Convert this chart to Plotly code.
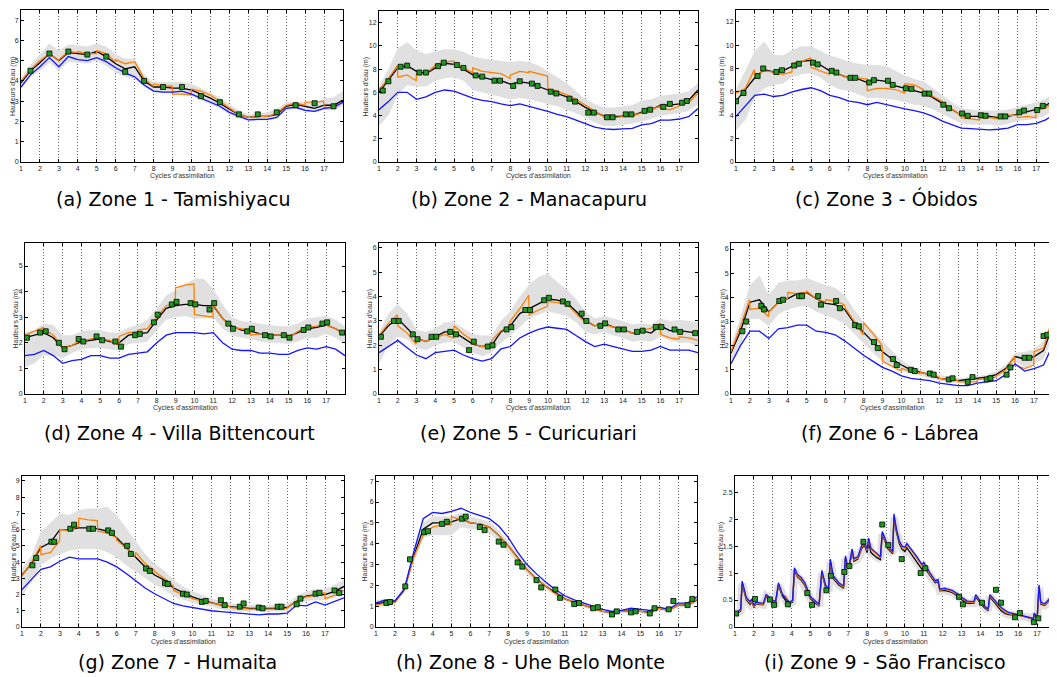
import plotly.graph_objects as go
from plotly.subplots import make_subplots

# ---------------- data ----------------
cycles = [1.0, 1.5, 2.0, 2.5, 3.0, 3.5, 4.0, 4.5, 5.0, 5.5,
          6.0, 6.5, 7.0, 7.5, 8.0, 8.5, 9.0, 9.5, 10.0, 10.5,
          11.0, 11.5, 12.0, 12.5, 13.0, 13.5, 14.0, 14.5, 15.0, 15.5,
          16.0, 16.5, 17.0, 17.5, 18.0]
cycle_ticks = list(range(1, 18))

# Zone 1 - Tamishiyacu
z1_black = [3.9, 4.5, 4.9, 5.35, 5.0, 5.4, 5.35, 5.3, 5.45, 5.2,
            4.85, 4.6, 4.7, 4.0, 3.7, 3.7, 3.65, 3.65, 3.55, 3.35,
            3.15, 2.9, 2.6, 2.35, 2.2, 2.25, 2.25, 2.35, 2.75, 2.85,
            2.75, 2.65, 2.8, 2.8, 3.05]
z1_blue = [3.7, 4.3, 4.7, 5.15, 4.7, 5.2, 5.05, 5.0, 5.15, 4.95,
           4.65, 4.4, 4.2, 3.8, 3.5, 3.45, 3.45, 3.5, 3.35, 3.15,
           2.95, 2.75, 2.45, 2.25, 2.08, 2.1, 2.1, 2.2, 2.65, 2.7,
           2.55, 2.5, 2.65, 2.7, 2.95]
z1_upper = [4.1, 4.8, 5.3, 5.85, 5.5, 5.8, 5.75, 5.7, 5.85, 5.7,
            5.3, 5.1, 5.1, 4.3, 3.95, 3.95, 3.95, 3.95, 3.85, 3.65,
            3.4, 3.2, 2.85, 2.55, 2.35, 2.4, 2.45, 2.6, 2.95, 3.0,
            2.95, 2.9, 3.15, 3.2, 3.5]
z1_lower = [3.6, 4.2, 4.5, 4.9, 4.5, 4.95, 4.9, 4.85, 5.0, 4.75,
            4.4, 4.2, 4.1, 3.7, 3.45, 3.4, 3.4, 3.35, 3.25, 3.05,
            2.85, 2.65, 2.35, 2.15, 2.05, 2.05, 2.05, 2.15, 2.55, 2.65,
            2.5, 2.45, 2.55, 2.55, 2.75]
z1_orange = [(4.0, 4.55, 5.0), (5.0, 5.35, 5.0), (5.05, 5.45, 5.4), (5.45, 5.35, 5.35),
             (5.5, 5.35, 4.95), (5.05, 4.85, 4.95), (4.95, 4.1, 3.75), (3.85, 3.75, 3.75),
             (3.35, 3.35, 3.3), (3.6, 3.5, 3.3), (3.3, 3.0, 2.7), (2.7, 2.35, 2.2),
             (2.2, 2.25, 2.25), (2.25, 2.4, 2.8), (2.8, 2.9, 2.8), (2.95, 2.95, 3.0),
             (2.7, 2.7, 2.95)]
z1_obs_x = [1.5, 2.5, 3.5, 4.5, 5.5, 6.5, 7.5, 8.5, 9.5, 10.5, 11.5, 12.5, 13.5, 14.5, 15.5, 16.5, 17.5]
z1_obs_y = [4.5, 5.35, 5.45, 5.3, 5.2, 4.45, 4.0, 3.7, 3.7, 3.25, 2.95, 2.35, 2.35, 2.45, 2.8, 2.9, 2.75]

# Zone 2 - Manacapuru
z2_black = [6.0, 7.0, 8.1, 8.3, 7.8, 7.6, 8.1, 8.5, 8.4, 8.0,
            7.5, 7.3, 7.1, 7.0, 6.7, 6.9, 6.8, 6.5, 6.2, 5.9,
            5.6, 5.2, 4.7, 4.3, 3.95, 3.9, 3.95, 4.0, 4.3, 4.5,
            4.9, 4.9, 5.0, 5.3, 6.2]
z2_blue = [4.5, 5.2, 6.0, 6.0, 5.4, 5.6, 6.0, 6.2, 6.1, 5.8,
           5.5, 5.3, 5.2, 5.0, 4.85, 5.0, 4.8, 4.55, 4.35, 4.1,
           3.9, 3.6, 3.3, 3.0, 2.85, 2.8, 2.85, 2.9, 3.2, 3.3,
           3.6, 3.6, 3.7, 3.9, 4.6]
z2_upper = [6.5, 8.0, 9.8, 10.3, 9.6, 9.3, 9.5, 9.7, 9.7, 9.5,
            9.1, 8.9, 8.8, 8.7, 8.6, 8.7, 8.6, 8.3, 7.8, 7.3,
            6.8, 6.1, 5.4, 5.0, 4.7, 4.7, 4.8, 4.9, 5.3, 5.4,
            5.7, 5.8, 5.9, 6.1, 6.8]
z2_lower = [3.1, 4.0, 5.8, 6.6, 6.5, 6.5, 7.0, 7.2, 7.3, 7.0,
            6.2, 6.0, 5.8, 5.6, 5.4, 5.5, 5.4, 5.2, 5.0, 4.8,
            4.5, 4.2, 3.8, 3.4, 3.1, 3.1, 3.2, 3.3, 3.5, 3.7,
            4.0, 4.1, 4.2, 4.4, 5.0]
z2_orange = [(6.2, 7.2, 8.3), (7.3, 7.5, 7.0), (7.6, 7.6, 8.3), (8.4, 8.6, 8.7),
             (8.4, 8.1, 7.7), (8.1, 7.8, 7.7), (7.7, 7.6, 7.2), (7.5, 7.8, 7.7),
             (7.8, 7.6, 7.4), (6.3, 6.1, 5.8), (5.8, 5.4, 4.9), (4.9, 4.4, 3.9),
             (3.8, 3.8, 3.9), (3.9, 4.0, 4.2), (4.3, 4.5, 4.8), (4.6, 4.5, 4.8),
             (4.9, 5.1, 5.9)]
z2_obs_x = [1.2, 1.5, 2.15, 2.5, 3.15, 3.5, 4.15, 4.45, 5.15, 5.5, 6.15, 6.5, 7.15, 7.45,
            8.15, 8.5, 9.15, 9.45, 10.15, 10.45, 11.15, 11.45, 12.15, 12.45, 13.15, 13.45,
            14.15, 14.45, 15.15, 15.45, 16.15, 16.5, 17.15, 17.4]
z2_obs_y = [6.15, 6.95, 8.2, 8.3, 7.7, 7.7, 8.25, 8.55, 8.35, 8.1, 7.45, 7.35, 7.0, 7.0,
            6.55, 6.95, 6.75, 6.55, 6.05, 5.9, 5.45, 5.2, 4.25, 4.25, 3.85, 3.85,
            4.1, 4.1, 4.4, 4.5, 4.75, 5.0, 5.1, 5.25]

# Zone 3 - Obidos
z3_black = [5.2, 6.2, 7.2, 7.9, 7.7, 7.8, 8.2, 8.6, 8.7, 8.3,
            7.8, 7.5, 7.2, 7.1, 6.8, 7.0, 6.9, 6.5, 6.3, 6.1,
            5.9, 5.5, 5.0, 4.5, 4.0, 3.9, 3.9, 3.9, 3.8, 3.9,
            4.1, 4.3, 4.5, 4.8, 5.4]
z3_blue = [3.9, 4.8, 5.7, 5.8, 5.6, 5.7, 6.0, 6.2, 6.35, 6.1,
           5.7, 5.5, 5.2, 5.1, 4.9, 5.1, 4.9, 4.7, 4.55, 4.4,
           4.2, 3.9, 3.5, 3.2, 2.9, 2.85, 2.8, 2.75, 2.8, 2.9,
           3.2, 3.2, 3.3, 3.6, 4.1]
z3_upper = [6.2, 7.8, 9.5, 10.3, 9.2, 9.1, 9.6, 9.9, 9.9, 9.5,
            9.1, 8.9, 8.6, 8.4, 8.3, 8.3, 8.2, 7.8, 7.4, 7.1,
            6.9, 6.3, 5.7, 5.1, 4.6, 4.5, 4.4, 4.4, 4.4, 4.5,
            4.7, 4.9, 5.1, 5.4, 6.0]
z3_lower = [2.7, 3.6, 5.5, 6.3, 6.6, 6.7, 7.3, 7.5, 7.6, 7.2,
            6.6, 6.2, 6.1, 5.8, 5.5, 5.5, 5.4, 5.3, 5.1, 4.9,
            4.8, 4.5, 4.1, 3.7, 3.3, 3.2, 3.2, 3.2, 3.1, 3.3,
            3.5, 3.6, 3.7, 4.0, 4.6]
z3_orange = [(5.9, 6.3, 7.9), (7.4, 7.8, 7.7), (7.6, 7.5, 7.7), (8.4, 8.6, 8.9),
             (8.1, 7.8, 7.5), (7.8, 7.5, 7.2), (7.3, 7.2, 7.1), (6.1, 6.3, 6.3),
             (6.3, 6.2, 5.9), (6.7, 6.6, 6.2), (5.9, 5.6, 5.2), (5.1, 4.5, 4.0),
             (3.8, 3.7, 3.6), (3.8, 3.8, 3.7), (3.9, 4.0, 4.0), (3.8, 3.9, 3.8),
             (4.4, 4.6, 5.1)]
z3_obs_x = [1.0, 1.4, 2.15, 2.45, 3.15, 3.45, 4.1, 4.35, 5.1, 5.35, 6.1, 6.35, 7.1, 7.35,
            8.1, 8.35, 9.1, 9.35, 10.05, 10.35, 11.05, 11.3, 12.05, 12.35, 13.05, 13.35,
            14.05, 14.3, 15.1, 15.35, 16.1, 16.35, 17.05, 17.35]
z3_obs_y = [5.2, 5.9, 7.35, 8.0, 7.7, 7.85, 8.25, 8.4, 8.5, 8.35, 7.8, 7.65, 7.2, 7.2,
            6.8, 7.0, 6.95, 6.6, 6.3, 6.25, 5.85, 5.85, 4.9, 4.6, 4.15, 3.95,
            4.0, 3.95, 3.9, 3.9, 4.25, 4.4, 4.45, 4.8]

# Zone 4 - Villa Bittencourt
z4_black = [2.2, 2.3, 2.4, 2.2, 1.8, 1.9, 2.05, 2.1, 2.15, 2.05,
            2.0, 2.3, 2.35, 2.4, 2.9, 3.35, 3.45, 3.5, 3.5, 3.45,
            3.45, 2.95, 2.65, 2.5, 2.45, 2.35, 2.3, 2.3, 2.25, 2.4,
            2.55, 2.6, 2.7, 2.55, 2.35]
z4_blue = [1.5, 1.55, 1.7, 1.5, 1.2, 1.3, 1.35, 1.5, 1.5, 1.4,
           1.4, 1.55, 1.6, 1.65, 2.0, 2.3, 2.4, 2.4, 2.4, 2.35,
           2.4, 2.0, 1.75, 1.7, 1.7, 1.6, 1.6, 1.55, 1.55, 1.7,
           1.8, 1.75, 1.85, 1.75, 1.5]
z4_upper = [2.4, 2.5, 2.75, 2.7, 2.3, 2.3, 2.45, 2.5, 2.5, 2.4,
            2.4, 2.6, 2.7, 2.9, 3.35, 3.85, 4.05, 4.3, 4.5, 4.5,
            4.1, 3.5, 3.0, 2.85, 2.8, 2.75, 2.7, 2.65, 2.65, 2.75,
            2.95, 3.0, 3.05, 2.9, 2.65]
z4_lower = [1.05, 1.2, 1.5, 1.5, 1.4, 1.6, 1.75, 1.8, 1.8, 1.75,
            1.7, 1.95, 2.0, 2.05, 2.5, 2.9, 3.0, 3.05, 2.95, 2.95,
            3.0, 2.55, 2.3, 2.2, 2.15, 2.05, 2.0, 2.0, 1.95, 2.05,
            2.2, 2.2, 2.35, 2.2, 1.95]
z4_orange = [(2.3, 2.45, 2.6), (2.55, 2.3, 1.85), (1.8, 1.9, 2.1), (2.05, 2.15, 2.2),
             (2.15, 2.1, 1.9), (2.25, 2.4, 2.45), (2.5, 2.55, 2.95), (3.0, 3.45, 3.55),
             (4.15, 4.25, 4.3), (3.1, 3.05, 3.0), (3.5, 2.95, 2.6), (2.6, 2.55, 2.45),
             (2.3, 2.35, 2.35), (2.3, 2.3, 2.3), (2.2, 2.45, 2.6), (2.6, 2.65, 2.75),
             (2.7, 2.55, 2.3)]
z4_obs_x = [1.1, 1.8, 2.1, 2.8, 3.1, 3.85, 4.1, 4.8, 5.1, 5.8, 6.1, 6.85, 7.1, 7.85,
            8.05, 8.8, 9.05, 9.8, 10.05, 10.8, 11.05, 11.8, 12.05, 12.8, 13.05, 13.75,
            14.05, 14.75, 15.05, 15.8, 16.05, 16.8, 17.05, 17.85]
z4_obs_y = [2.2, 2.4, 2.45, 2.0, 1.75, 2.15, 2.05, 2.25, 2.1, 2.05, 1.85, 2.3, 2.35, 2.8,
            3.1, 3.5, 3.6, 3.55, 3.5, 3.3, 3.55, 2.75, 2.55, 2.45, 2.55, 2.3,
            2.25, 2.3, 2.2, 2.5, 2.6, 2.75, 2.8, 2.4]

# Zone 5 - Curicuriari
z5_black = [2.35, 2.8, 3.1, 2.7, 2.3, 2.15, 2.35, 2.55, 2.55, 2.3,
            2.05, 1.95, 2.0, 2.55, 2.8, 3.3, 3.5, 3.7, 3.9, 3.85,
            3.75, 3.4, 3.0, 2.8, 2.9, 2.75, 2.65, 2.5, 2.6, 2.5,
            2.8, 2.6, 2.6, 2.55, 2.5]
z5_blue = [1.7, 1.95, 2.2, 1.9, 1.6, 1.45, 1.7, 1.75, 1.8, 1.6,
           1.45, 1.35, 1.45, 1.85, 1.95, 2.3, 2.5, 2.65, 2.75, 2.7,
           2.65, 2.4, 2.15, 1.95, 2.05, 1.95, 1.85, 1.75, 1.75, 1.8,
           1.95, 1.8, 1.8, 1.8, 1.7]
z5_upper = [2.5, 3.3, 3.7, 3.3, 2.65, 2.55, 2.7, 2.95, 2.95, 2.7,
            2.45, 2.4, 2.4, 3.0, 3.4, 4.0, 4.5, 4.8, 4.95, 4.6,
            4.3, 3.9, 3.4, 3.1, 3.2, 3.1, 3.0, 2.85, 2.9, 2.85,
            3.1, 3.0, 3.05, 3.0, 2.95]
z5_lower = [1.25, 2.0, 2.35, 2.25, 1.9, 1.8, 2.0, 2.1, 2.15, 1.9,
            1.7, 1.55, 1.7, 2.1, 2.4, 2.75, 3.1, 3.25, 3.4, 3.3,
            3.2, 2.95, 2.55, 2.45, 2.55, 2.4, 2.3, 2.15, 2.2, 2.15,
            2.35, 2.2, 2.1, 2.1, 1.95]
z5_orange = [(2.4, 2.9, 3.25), (2.8, 2.5, 2.05), (2.3, 2.15, 2.35), (2.3, 2.45, 2.3),
             (2.8, 2.45, 2.2), (2.05, 1.95, 1.95), (2.2, 2.6, 2.8), (3.0, 3.5, 4.05),
             (3.25, 3.45, 3.6), (3.8, 3.75, 3.7), (3.7, 3.3, 2.95), (3.0, 2.8, 2.9),
             (2.85, 2.75, 2.65), (2.65, 2.5, 2.6), (2.6, 2.7, 2.9), (2.45, 2.3, 2.25),
             (2.35, 2.3, 2.2)]
z5_obs_x = [1.1, 1.8, 2.05, 2.8, 3.05, 3.8, 4.05, 4.8, 5.1, 5.8, 6.05, 6.8, 7.05, 7.8,
            8.05, 8.8, 9.05, 9.8, 10.05, 10.8, 11.05, 11.8, 12.05, 12.8, 13.05, 13.75,
            14.05, 14.75, 15.05, 15.75, 16.05, 16.75, 17.05, 17.85]
z5_obs_y = [2.35, 3.0, 3.0, 2.45, 2.25, 2.35, 2.35, 2.55, 2.45, 1.8, 2.15, 1.95, 2.0, 2.65,
            2.75, 3.45, 3.45, 3.85, 3.95, 3.8, 3.7, 3.3, 3.0, 2.8, 2.9, 2.65,
            2.65, 2.55, 2.6, 2.75, 2.75, 2.65, 2.55, 2.5]

# Zone 6 - Labrea
z6_black = [1.7, 2.6, 3.8, 3.9, 3.4, 3.8, 3.95, 4.15, 4.2, 3.95,
            3.75, 3.7, 3.5, 2.95, 2.55, 2.15, 1.75, 1.45, 1.2, 1.0,
            0.9, 0.8, 0.65, 0.6, 0.55, 0.6, 0.65, 0.7, 0.8, 1.05,
            1.55, 1.45, 1.55, 1.8, 2.85]
z6_blue = [1.25, 2.0, 2.6, 2.6, 2.3, 2.7, 2.75, 2.85, 2.85, 2.6,
           2.55, 2.45, 2.2, 1.9, 1.6, 1.35, 1.1, 0.95, 0.75, 0.65,
           0.6, 0.55, 0.45, 0.4, 0.35, 0.35, 0.45, 0.5, 0.55, 0.8,
           1.25, 0.95, 1.05, 1.2, 2.05]
z6_upper = [2.0, 3.2, 4.5, 4.9, 4.1, 4.6, 4.7, 4.7, 4.8, 4.65,
            4.5, 4.4, 4.1, 3.5, 3.0, 2.6, 2.2, 1.8, 1.4, 1.15,
            1.0, 0.9, 0.8, 0.7, 0.65, 0.7, 0.75, 0.8, 0.95, 1.2,
            1.7, 1.75, 1.85, 2.2, 3.2]
z6_lower = [1.2, 2.0, 3.1, 3.1, 2.8, 3.3, 3.5, 3.6, 3.65, 3.4,
            3.25, 3.1, 2.9, 2.5, 2.1, 1.7, 1.35, 1.1, 0.95, 0.85,
            0.75, 0.65, 0.55, 0.5, 0.45, 0.5, 0.55, 0.6, 0.65, 0.9,
            1.35, 1.1, 1.25, 1.45, 2.35]
z6_orange = [(1.75, 2.8, 3.9), (3.5, 3.55, 3.2), (3.4, 3.8, 3.95), (4.2, 4.15, 4.2),
             (4.25, 3.95, 3.8), (3.9, 3.85, 3.7), (3.6, 3.0, 2.45), (2.95, 2.5, 2.0),
             (1.35, 1.15, 0.95), (1.05, 0.95, 0.85), (0.9, 0.8, 0.7), (0.65, 0.6, 0.55),
             (0.5, 0.5, 0.5), (0.6, 0.65, 0.7), (0.75, 1.0, 1.55), (1.2, 1.05, 1.2),
             (1.75, 1.9, 3.15)]
z6_obs_x = [1.6, 1.8, 2.6, 2.75, 3.55, 3.75, 4.6, 4.75, 5.6, 5.75, 6.55, 6.75, 7.55, 7.75,
            8.55, 8.75, 9.55, 9.75, 10.5, 10.7, 11.5, 11.7, 12.5, 12.7, 13.5, 13.75,
            14.5, 14.7, 15.55, 15.75, 16.5, 16.75, 17.5, 17.7]
z6_obs_y = [2.6, 3.0, 3.65, 3.5, 3.85, 3.9, 4.05, 4.05, 4.05, 3.7, 3.85, 3.55, 2.85, 2.8,
            2.15, 1.9, 1.45, 1.2, 1.0, 0.95, 0.85, 0.8, 0.6, 0.65, 0.5, 0.7,
            0.6, 0.65, 0.8, 1.1, 1.5, 1.5, 2.4, 2.45]

# Zone 7 - Humaita
z7_black = [3.2, 3.9, 4.9, 5.2, 6.0, 6.0, 6.1, 6.1, 6.05, 5.9,
            5.5, 4.9, 4.3, 3.7, 3.2, 2.9, 2.4, 2.1, 1.85, 1.65,
            1.5, 1.35, 1.25, 1.2, 1.15, 1.15, 1.15, 1.15, 1.2, 1.6,
            1.9, 2.0, 2.0, 2.2, 2.5]
z7_blue = [2.3, 2.9, 3.55, 3.7, 4.05, 4.3, 4.2, 4.2, 4.2, 4.0,
           3.7, 3.3, 2.85, 2.4, 2.05, 1.75, 1.45, 1.3, 1.2, 1.1,
           1.0, 0.95, 0.9, 0.85, 0.8, 0.75, 0.8, 0.8, 0.85, 1.35,
           1.3, 1.55, 1.35, 1.6, 1.8]
z7_upper = [3.6, 4.4, 5.9, 6.4, 7.0, 6.9, 7.2, 7.3, 7.3, 7.4,
            6.9, 6.1, 5.3, 4.5, 3.9, 3.5, 2.9, 2.5, 2.2, 1.95,
            1.75, 1.6, 1.45, 1.4, 1.35, 1.35, 1.35, 1.4, 1.45, 1.9,
            2.2, 2.35, 2.35, 2.6, 2.9]
z7_lower = [1.9, 2.8, 3.8, 4.2, 4.5, 4.7, 4.8, 4.8, 4.8, 4.6,
            4.3, 3.8, 3.4, 3.0, 2.6, 2.3, 1.9, 1.7, 1.5, 1.35,
            1.25, 1.1, 1.0, 0.95, 0.95, 0.95, 0.95, 0.95, 0.95, 1.3,
            1.6, 1.65, 1.65, 1.8, 2.1]
z7_orange = [(3.15, 4.0, 5.0), (4.45, 4.6, 5.3), (6.0, 5.95, 6.2), (6.7, 6.6, 6.55),
             (5.9, 5.8, 5.5), (5.35, 4.85, 4.35), (4.6, 3.9, 3.5), (3.4, 3.0, 2.55),
             (2.25, 2.0, 1.75), (1.75, 1.6, 1.5), (1.45, 1.35, 1.25), (1.2, 1.15, 1.1),
             (1.1, 1.1, 1.1), (1.1, 1.1, 1.15), (1.2, 1.6, 1.85), (1.85, 1.95, 2.1),
             (1.75, 1.95, 2.25)]
z7_obs_x = [1.55, 1.75, 2.55, 2.7, 3.55, 3.75, 4.55, 4.75, 5.55, 5.75, 6.55, 6.75, 7.55, 7.75,
            8.55, 8.7, 9.5, 9.7, 10.5, 10.7, 11.5, 11.7, 12.5, 12.7, 13.5, 13.7,
            14.5, 14.7, 15.5, 15.7, 16.5, 16.7, 17.5, 17.75]
z7_obs_y = [3.8, 4.25, 5.25, 5.25, 6.05, 6.3, 6.05, 6.05, 5.95, 5.8, 5.0, 4.5, 3.6, 3.45,
            2.7, 2.65, 2.05, 2.0, 1.55, 1.6, 1.65, 1.35, 1.25, 1.45, 1.2, 1.15,
            1.25, 1.25, 1.4, 1.75, 2.05, 2.1, 2.25, 2.1]

# Zone 8 - Uhe Belo Monte
z8_black = [1.1, 1.2, 1.2, 1.8, 3.4, 4.7, 5.0, 5.0, 5.05, 5.2,
            5.0, 4.95, 4.8, 4.4, 3.9, 3.3, 2.75, 2.3, 1.95, 1.65,
            1.35, 1.2, 1.05, 0.9, 0.75, 0.7, 0.75, 0.8, 0.75, 0.7,
            0.9, 0.8, 1.05, 1.05, 1.3]
z8_blue = [1.15, 1.3, 1.25, 1.8, 3.6, 5.2, 5.5, 5.45, 5.55, 5.7,
           5.5, 5.35, 5.2, 4.85, 4.3, 3.6, 3.0, 2.55, 2.15, 1.8,
           1.5, 1.3, 1.15, 1.0, 0.85, 0.75, 0.8, 0.9, 0.85, 0.8,
           0.95, 0.85, 1.15, 1.15, 1.45]
z8_upper = [1.3, 1.35, 1.35, 1.95, 3.7, 5.0, 5.3, 5.3, 5.3, 5.5,
            5.3, 5.2, 5.05, 4.65, 4.15, 3.5, 2.95, 2.45, 2.1, 1.8,
            1.45, 1.3, 1.15, 1.0, 0.85, 0.8, 0.85, 0.9, 0.85, 0.8,
            1.0, 0.9, 1.15, 1.15, 1.45]
z8_lower = [0.95, 1.05, 1.1, 1.65, 3.1, 4.3, 4.4, 4.4, 4.4, 4.8,
            4.7, 4.7, 4.5, 4.1, 3.6, 3.05, 2.55, 2.1, 1.8, 1.5,
            1.25, 1.1, 0.95, 0.8, 0.65, 0.6, 0.65, 0.7, 0.65, 0.6,
            0.8, 0.7, 0.95, 0.95, 1.15]
z8_orange = [(1.05, 1.15, 1.2), (1.2, 1.75, 3.3), (3.35, 4.4, 4.75), (4.8, 4.9, 4.9),
             (5.3, 5.15, 5.0), (5.0, 4.95, 4.8), (4.8, 4.4, 3.9), (3.9, 3.3, 2.75),
             (2.75, 2.3, 1.95), (1.95, 1.6, 1.35), (1.35, 1.2, 1.05), (1.05, 0.9, 0.75),
             (0.75, 0.7, 0.75), (0.75, 0.8, 0.75), (0.75, 0.7, 0.9), (0.9, 0.8, 1.05),
             (1.05, 1.05, 1.3)]
z8_obs_x = [1.55, 1.75, 2.55, 2.8, 3.55, 3.75, 4.5, 4.75, 5.55, 5.75, 6.5, 6.75, 7.5, 7.75,
            8.5, 8.75, 9.5, 9.75, 10.5, 10.75, 11.5, 11.75, 12.5, 12.75, 13.5, 13.75,
            14.5, 14.75, 15.5, 15.75, 16.5, 16.75, 17.5, 17.75]
z8_obs_y = [1.15, 1.2, 1.95, 3.25, 4.55, 4.6, 4.95, 5.05, 5.2, 5.3, 4.8, 4.65, 4.1, 3.95,
            3.1, 2.9, 2.25, 1.9, 1.8, 1.4, 1.1, 1.15, 0.9, 0.95, 0.6, 0.75,
            0.7, 0.75, 0.65, 0.9, 0.85, 1.25, 1.05, 1.35]

# Zone 9 - Sao Francisco (finer time axis)
z9_x = [1.0, 1.3, 1.38, 1.6, 1.8, 1.9, 2.0, 2.1, 2.5, 2.65,
        3.0, 3.15, 3.3, 3.5, 3.7, 3.9, 4.05, 4.15, 4.3, 4.5,
        4.7, 4.85, 5.0, 5.2, 5.45, 5.6, 5.8, 5.95, 6.05, 6.2,
        6.5, 6.75, 6.85, 6.95, 7.05, 7.2, 7.3, 7.5, 7.7, 7.85,
        8.0, 8.08, 8.2, 8.5, 8.7, 8.8, 8.95, 9.1, 9.35, 9.42,
        9.55, 9.7, 9.85, 10.0, 10.1, 10.3, 10.6, 10.9, 11.0, 11.3,
        11.6, 11.75, 11.85, 12.1, 12.5, 12.8, 13.0, 13.3, 13.65, 13.75,
        13.95, 14.2, 14.4, 14.5, 14.7, 14.9, 15.1, 15.3, 15.5, 16.0,
        16.5, 16.8, 16.85, 17.0, 17.1, 17.2, 17.4, 17.6, 17.8, 18.0]
z9_blue = [0.25, 0.33, 0.85, 0.55, 0.47, 0.52, 0.40, 0.46, 0.44, 0.60,
           0.50, 0.48, 0.82, 0.62, 0.52, 0.46, 0.50, 1.10, 0.98, 0.92,
           0.82, 0.68, 0.56, 0.50, 0.42, 1.05, 0.78, 0.70, 1.26, 0.95,
           0.82, 0.76, 1.32, 1.15, 1.15, 1.45, 1.27, 1.30, 1.50, 1.58,
           1.45, 1.65, 1.46, 1.37, 1.30, 1.77, 1.62, 1.50, 1.40, 2.10,
           1.82, 1.60, 1.50, 1.48, 1.55, 1.46, 1.32, 1.16, 1.20, 1.02,
           0.86, 0.88, 0.70, 0.72, 0.68, 0.61, 0.55, 0.48, 0.47, 0.60,
           0.50, 0.40, 0.33, 0.60, 0.52, 0.42, 0.36, 0.31, 0.27, 0.23,
           0.19, 0.16, 0.26, 0.16, 0.78, 0.46, 0.43, 0.50, 0.60, 0.66]
z9_black = [0.22, 0.30, 0.80, 0.50, 0.42, 0.47, 0.36, 0.43, 0.41, 0.57,
            0.46, 0.45, 0.77, 0.58, 0.48, 0.43, 0.46, 1.05, 0.93, 0.87,
            0.77, 0.64, 0.52, 0.46, 0.39, 1.00, 0.73, 0.66, 1.20, 0.90,
            0.78, 0.72, 1.27, 1.10, 1.10, 1.40, 1.22, 1.26, 1.45, 1.52,
            1.38, 1.55, 1.38, 1.29, 1.25, 1.72, 1.57, 1.45, 1.36, 2.03,
            1.76, 1.55, 1.44, 1.40, 1.47, 1.37, 1.22, 1.07, 1.12, 0.96,
            0.82, 0.84, 0.67, 0.68, 0.64, 0.57, 0.51, 0.44, 0.44, 0.56,
            0.46, 0.36, 0.30, 0.56, 0.48, 0.38, 0.30, 0.25, 0.23, 0.22,
            0.18, 0.14, 0.24, 0.14, 0.73, 0.42, 0.40, 0.47, 0.56, 0.60]
z9_orange = [0.23, 0.31, 0.82, 0.52, 0.44, 0.49, 0.37, 0.44, 0.42, 0.58,
             0.48, 0.46, 0.79, 0.60, 0.56, 0.44, 0.48, 1.07, 0.95, 0.89,
             0.79, 0.66, 0.54, 0.48, 0.40, 1.02, 0.75, 0.68, 1.22, 0.92,
             0.80, 0.74, 1.29, 1.12, 1.12, 1.42, 1.24, 1.28, 1.47, 1.55,
             1.42, 1.62, 1.44, 1.35, 1.28, 1.74, 1.59, 1.47, 1.38, 2.06,
             1.79, 1.58, 1.47, 1.45, 1.52, 1.44, 1.29, 1.13, 1.17, 0.99,
             0.84, 0.86, 0.68, 0.70, 0.66, 0.59, 0.53, 0.46, 0.45, 0.58,
             0.48, 0.38, 0.31, 0.58, 0.50, 0.40, 0.34, 0.29, 0.25, 0.22,
             0.18, 0.15, 0.25, 0.15, 0.75, 0.44, 0.41, 0.48, 0.58, 0.55]
z9_obs_x = [1.05, 2.06, 2.85, 3.07, 3.8, 4.83, 5.08, 5.84, 6.08, 6.79, 7.05, 7.8, 8.8, 9.12,
            9.83, 10.83, 11.08, 12.86, 13.07, 14.08, 14.82, 15.09, 15.83, 16.09, 16.83, 17.06, 17.82]
z9_obs_y = [0.25, 0.52, 0.51, 0.41, 0.42, 0.63, 0.41, 0.68, 0.95, 1.02, 1.13, 1.58, 1.9, 1.52,
            1.26, 1.0, 1.09, 0.56, 0.42, 0.45, 0.69, 0.45, 0.18, 0.26, 0.09, 0.16, 0.62]

captions = ["(a) Zone 1 - Tamishiyacu", "(b) Zone 2 - Manacapuru", "(c) Zone 3 - Óbidos",
            "(d) Zone 4 - Villa Bittencourt", "(e) Zone 5 - Curicuriari", "(f) Zone 6 - Lábrea",
            "(g) Zone 7 - Humaita", "(h) Zone 8 - Uhe Belo Monte", "(i) Zone 9 - São Francisco"]

# ---------------- layout constants (target page pixels) ----------------
W, H = 1057, 677
OFF = 8                      # page body margin in front of the figure
FW, FH = W - OFF, H - OFF    # figure size so it fits in the window

boxes = [(21, 343, 10, 162), (379, 698, 11, 162), (736, 1055, 10, 162),
         (25, 345, 243, 394), (379, 698, 243, 394), (731, 1053, 243, 394),
         (22, 344, 476, 627), (376, 697, 476, 627), (735, 1056, 476, 627)]
y_ranges = [7.5, 13, 13, 5.9, 6.2, 6.25, 9.3, 7.25, 2.8]
y_ticks = [list(range(0, 8)), list(range(0, 13, 2)), list(range(0, 13, 2)),
           list(range(0, 6)), list(range(0, 7)), list(range(0, 7)),
           list(range(0, 10)), list(range(0, 8)), [0, 0.5, 1, 1.5, 2, 2.5]]
ytitle_x = [13, 365, 722, 15, 369, 722, 13, 364, 720]
xtitle_y = [176, 408, 642]
caption_y = [199, 433, 662]
caption_x = [173, 529, 886, 180, 528, 890, 177, 530, 885]


def px(x):
    return (x - OFF) / FW


def py(y):
    return 1 - (y - OFF) / FH


BAND = "#e0e0e0"
BLUE = "#1414ff"
ORANGE = "#ff8000"
GREEN = "#1f9a1f"

zones = [
    (z1_black, z1_blue, z1_upper, z1_lower, z1_orange, z1_obs_x, z1_obs_y),
    (z2_black, z2_blue, z2_upper, z2_lower, z2_orange, z2_obs_x, z2_obs_y),
    (z3_black, z3_blue, z3_upper, z3_lower, z3_orange, z3_obs_x, z3_obs_y),
    (z4_black, z4_blue, z4_upper, z4_lower, z4_orange, z4_obs_x, z4_obs_y),
    (z5_black, z5_blue, z5_upper, z5_lower, z5_orange, z5_obs_x, z5_obs_y),
    (z6_black, z6_blue, z6_upper, z6_lower, z6_orange, z6_obs_x, z6_obs_y),
    (z7_black, z7_blue, z7_upper, z7_lower, z7_orange, z7_obs_x, z7_obs_y),
    (z8_black, z8_blue, z8_upper, z8_lower, z8_orange, z8_obs_x, z8_obs_y),
]

fig = make_subplots(rows=3, cols=3)


def add(tr, idx):
    r, c = idx // 3 + 1, idx % 3 + 1
    fig.add_trace(tr, row=r, col=c)


for idx, (blk, blu, up, lo, org, ox, oy) in enumerate(zones):
    add(go.Scatter(x=cycles + cycles[::-1], y=up + lo[::-1], fill="toself",
                   fillcolor=BAND, line=dict(width=0), mode="lines",
                   hoverinfo="skip", showlegend=False), idx)
    add(go.Scatter(x=cycles, y=blk, mode="lines", line=dict(color="black", width=1.3),
                   showlegend=False), idx)
    ox_line, oy_line = [], []
    for k, seg in enumerate(org, start=1):
        ox_line += [k, k + 0.5, k + 0.98]
        oy_line += list(seg)
    add(go.Scatter(x=ox_line, y=oy_line, mode="lines", line=dict(color=ORANGE, width=1.3),
                   showlegend=False), idx)
    add(go.Scatter(x=cycles, y=blu, mode="lines", line=dict(color=BLUE, width=1.3),
                   showlegend=False), idx)
    add(go.Scatter(x=ox, y=oy, mode="markers",
                   marker=dict(symbol="square", size=5, color=GREEN,
                               line=dict(color="black", width=0.8)),
                   showlegend=False), idx)

# Zone 9
add(go.Scatter(x=z9_x, y=z9_black, mode="lines", line=dict(color=BAND, width=8),
               hoverinfo="skip", showlegend=False), 8)
add(go.Scatter(x=z9_x, y=z9_black, mode="lines", line=dict(color="black", width=1.3),
               showlegend=False), 8)
add(go.Scatter(x=z9_x, y=z9_orange, mode="lines", line=dict(color=ORANGE, width=1.3),
               showlegend=False), 8)
add(go.Scatter(x=z9_x, y=z9_blue, mode="lines", line=dict(color=BLUE, width=1.3),
               showlegend=False), 8)
add(go.Scatter(x=z9_obs_x, y=z9_obs_y, mode="markers",
               marker=dict(symbol="square", size=5, color=GREEN,
                           line=dict(color="black", width=0.8)),
               showlegend=False), 8)

tickfont = dict(family="Liberation Sans, Arial", size=7, color="#222")
annotations = []
for i, (l, r, t, b) in enumerate(boxes):
    sfx = "" if i == 0 else str(i + 1)
    fig.layout["xaxis" + sfx].update(
        domain=[px(l), px(r)], range=[1, 18], tickvals=cycle_ticks,
        ticktext=[str(v) for v in cycle_ticks], ticks="inside", ticklen=3,
        tickcolor="black", showline=True, linecolor="black", linewidth=1,
        mirror="ticks", showgrid=True, gridcolor="#666", griddash="1px,2px",
        gridwidth=0.8, zeroline=False, tickfont=tickfont, automargin=False)
    fig.layout["yaxis" + sfx].update(
        domain=[py(b), py(t)], range=[0, y_ranges[i]], tickvals=y_ticks[i],
        ticks="inside", ticklen=3, tickcolor="black", showline=True,
        linecolor="black", linewidth=1, mirror="ticks", showgrid=False,
        zeroline=False, tickfont=tickfont, automargin=False)
    annotations.append(dict(text="Hauteurs d'eau (m)", x=px(ytitle_x[i]),
                            y=py((t + b) / 2), xref="paper", yref="paper",
                            textangle=-90, showarrow=False, xanchor="center",
                            yanchor="middle",
                            font=dict(family="Liberation Sans, Arial", size=7, color="#333")))
    annotations.append(dict(text="Cycles d'assimilation", x=px((l + r) / 2),
                            y=py(xtitle_y[i // 3]), xref="paper", yref="paper",
                            showarrow=False, xanchor="center", yanchor="middle",
                            font=dict(family="Liberation Sans, Arial", size=7, color="#333")))
    annotations.append(dict(text=captions[i], x=px(caption_x[i]),
                            y=py(caption_y[i // 3]), xref="paper", yref="paper",
                            showarrow=False, xanchor="center", yanchor="middle",
                            font=dict(family="DejaVu Sans", size=19, color="black")))

fig.update_layout(width=FW, height=FH, margin=dict(l=0, r=0, t=0, b=0),
                  paper_bgcolor="white", plot_bgcolor="white",
                  annotations=annotations, showlegend=False)

fig.write_html("out.html")
